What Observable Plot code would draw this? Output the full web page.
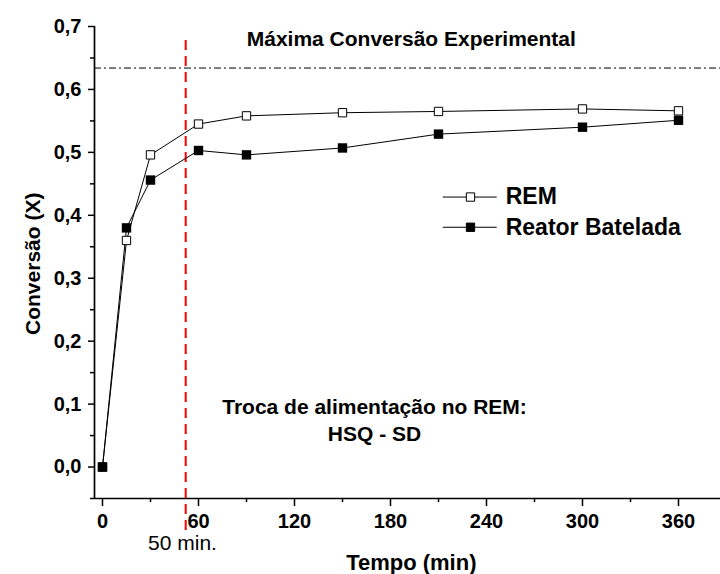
<!DOCTYPE html>
<html><head><meta charset="utf-8">
<script src="https://cdn.jsdelivr.net/npm/d3@7"></script>
<script src="https://cdn.jsdelivr.net/npm/@observablehq/plot@0.6"></script>
<style>html,body{margin:0;padding:0;background:#fff} svg{display:block}</style>
</head><body><div id="chart"></div>
<script>
// ---- data ----
const times = [0, 15, 30, 60, 90, 150, 210, 300, 360];
const remValues = [0, 0.36, 0.496, 0.545, 0.558, 0.563, 0.565, 0.569, 0.566];
const batchValues = [0, 0.38, 0.456, 0.503, 0.496, 0.507, 0.529, 0.540, 0.551];
const seriesNames = ["REM", "Reator Batelada"];
const xTicks = [0, 60, 120, 180, 240, 300, 360];
const xMinorTicks = [30, 90, 150, 210, 270, 330];
const yTicks = [0, 0.1, 0.2, 0.3, 0.4, 0.5, 0.6, 0.7];
const yMinorTicks = [-0.05, 0.05, 0.15, 0.25, 0.35, 0.45, 0.55, 0.65];
const maxConversion = 0.634;
const maxConversionLabel = "Máxima Conversão Experimental";
const switchTime = 52;
const switchLabel = "50 min.";
const noteLabel = "Troca de alimentação no REM:\nHSQ - SD";
const xLabel = "Tempo (min)";
const yLabel = "Conversão (X)";

// ---- build tables ----
const rem = times.map((t, i) => ({t, v: remValues[i]}));
const batch = times.map((t, i) => ({t, v: batchValues[i]}));
const xDomain = [-5, 386.25];
const yDomain = [-0.05, 0.7];
const font = "'Liberation Sans', Arial, Helvetica, sans-serif";

const legend = [
  {name: seriesNames[0], y: 0.429, fill: "#fff"},
  {name: seriesNames[1], y: 0.381, fill: "#000"}
];

const chart = Plot.plot({
  width: 720,
  height: 574,
  marginLeft: 94,
  marginRight: 0,
  marginTop: 26,
  marginBottom: 76,
  x: {domain: xDomain},
  y: {domain: yDomain},
  style: {fontFamily: font, fontWeight: "bold", fontSize: "20px", color: "#000", background: "#fff", overflow: "visible"},
  marks: [
    // axes
    Plot.axisX(xMinorTicks, {tickSize: 4, tickFormat: () => "", label: null, strokeWidth: 1.5}),
    Plot.axisX(xTicks, {tickSize: 8, tickPadding: 7, label: null, strokeWidth: 1.5, fontSize: 20, fontWeight: "bold"}),
    Plot.axisY(yMinorTicks, {tickSize: 4, tickFormat: () => "", label: null, strokeWidth: 1.5}),
    Plot.axisY(yTicks, {tickSize: 6, tickPadding: 7, label: null, strokeWidth: 1.5, fontSize: 20, fontWeight: "bold",
      tickFormat: d => d.toFixed(1).replace(".", ",")}),
    Plot.ruleY([yDomain[0]], {x1: xDomain[0], x2: xDomain[1], stroke: "#000", strokeWidth: 1.7}),
    Plot.ruleX([xDomain[0]], {y1: yDomain[0], y2: yDomain[1], stroke: "#000", strokeWidth: 1.7}),

    // reference lines
    Plot.ruleY([maxConversion], {x1: xDomain[0], x2: xDomain[1], stroke: "#000", strokeWidth: 1, strokeDasharray: "7,3,2,3"}),
    Plot.ruleX([switchTime], {y1: -0.101, y2: 0.685, stroke: "#ff0000", strokeWidth: 2, strokeDasharray: "10,6"}),

    // series
    Plot.line(rem, {x: "t", y: "v", stroke: "#000", strokeWidth: 1}),
    Plot.line(batch, {x: "t", y: "v", stroke: "#000", strokeWidth: 1}),
    Plot.dot(rem, {x: "t", y: "v", symbol: "square", r: 4.7, fill: "#fff", stroke: "#000", strokeWidth: 1}),
    Plot.dot(batch, {x: "t", y: "v", symbol: "square", r: 5.3, fill: "#000", stroke: "none"}),

    // legend
    Plot.ruleY(legend, {y: "y", x1: 213, x2: 246.7, stroke: "#000", strokeWidth: 1}),
    Plot.dot(legend, {x: 230, y: "y", symbol: "square", r: 4.7, fill: "fill", stroke: "#000", strokeWidth: 1}),
    Plot.text(legend, {x: 252, y: "y", text: "name", textAnchor: "start", fontSize: 23, fontWeight: "bold", fontFamily: font}),

    // annotations
    Plot.text([maxConversionLabel], {x: 193, y: 0.68, text: d => d, fontSize: 21, fontWeight: "bold", fontFamily: font}),
    Plot.text([noteLabel], {x: 170, y: 0.076, text: d => d, fontSize: 21, fontWeight: "bold", fontFamily: font, lineHeight: 1.25}),
    Plot.text([switchLabel], {x: switchTime - 2, y: -0.1215, text: d => d, fontSize: 21, fontWeight: "normal", fontFamily: font}),
    Plot.text([xLabel], {x: 193, y: -0.1523, text: d => d, fontSize: 22, fontWeight: "bold", fontFamily: font}),
    Plot.text([yLabel], {x: -43, y: 0.323, text: d => d, rotate: -90, fontSize: 21, fontWeight: "bold", fontFamily: font})
  ]
});
document.getElementById("chart").appendChild(chart);
</script>
</body></html>
